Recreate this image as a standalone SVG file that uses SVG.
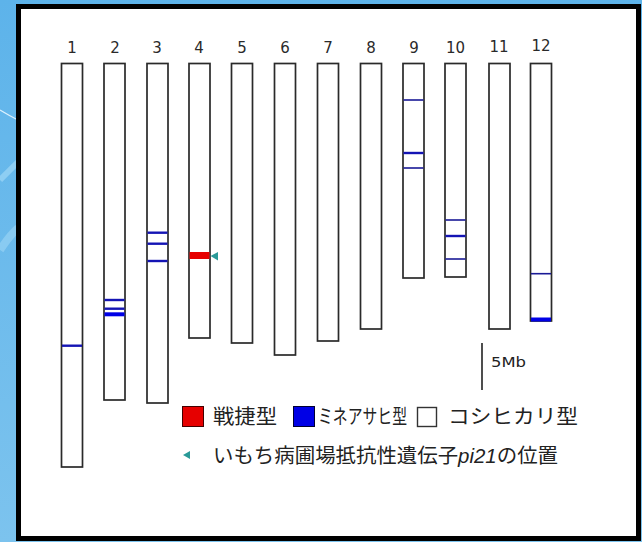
<svg xmlns="http://www.w3.org/2000/svg" width="642" height="542" viewBox="0 0 642 542">
<defs>
<linearGradient id="bg" x1="0" y1="0" x2="0" y2="1">
<stop offset="0" stop-color="#5db3ea"/>
<stop offset="1" stop-color="#7cc3ee"/>
</linearGradient>
</defs>
<style>
.chr{fill:#fff;stroke:#2a2a2a;stroke-width:1.7}
.lab{font-family:"DejaVu Sans","Liberation Sans",sans-serif;font-size:15px;fill:#2a2a2a;text-anchor:middle}
.thin{stroke:#1a1a96;stroke-width:1.6}
.mid{stroke:#1414b4;stroke-width:2.4}
.thick{stroke:#0000e6;stroke-width:4}
.leg{font-family:"Noto Sans CJK JP","Liberation Sans",sans-serif;font-size:20px;fill:#222}
.tri{fill:#2a9a98}
</style>
<rect x="0" y="0" width="642" height="542" fill="url(#bg)"/>
<path d="M0 110 Q10 116 18 120" fill="none" stroke="#e8f6ff" stroke-width="1.2" opacity="0.9"/>
<path d="M0 180 Q10 170 18 162" fill="none" stroke="#a8dcf8" stroke-width="6" opacity="0.6"/>
<path d="M0 250 Q10 235 18 228" fill="none" stroke="#a8dcf8" stroke-width="8" opacity="0.5"/>
<rect x="18.5" y="6.5" width="620" height="532" fill="#fff" stroke="#000" stroke-width="5"/>

<g id="chr1"><text class="lab" x="72" y="53">1</text><rect class="chr" x="61.5" y="63.5" width="21" height="403.5"/><line class="mid" x1="62" y1="345.7" x2="82" y2="345.7"/></g>
<g id="chr2"><text class="lab" x="115" y="53">2</text><rect class="chr" x="104" y="63.5" width="21" height="336.5"/><line class="mid" x1="104.5" y1="300" x2="124.5" y2="300"/><line class="mid" x1="104.5" y1="308.7" x2="124.5" y2="308.7"/><line class="thick" x1="104.5" y1="314.3" x2="124.5" y2="314.3"/></g>
<g id="chr3"><text class="lab" x="157" y="53">3</text><rect class="chr" x="147" y="63.5" width="21" height="339.5"/><line class="mid" x1="147.5" y1="232.7" x2="167.5" y2="232.7"/><line class="mid" x1="147.5" y1="243.7" x2="167.5" y2="243.7"/><line class="mid" x1="147.5" y1="261" x2="167.5" y2="261"/></g>
<g id="chr4"><text class="lab" x="199" y="53">4</text><rect class="chr" x="189" y="63.5" width="21" height="274.5"/><rect x="189.5" y="252" width="20" height="7" fill="#e60000"/><polygon class="tri" points="210.5,256 218,252 218,260.5"/></g>
<g id="chr5"><text class="lab" x="242" y="53">5</text><rect class="chr" x="231.5" y="63.5" width="21" height="279.5"/></g>
<g id="chr6"><text class="lab" x="285" y="53">6</text><rect class="chr" x="274.5" y="63.5" width="21" height="291.5"/></g>
<g id="chr7"><text class="lab" x="328" y="53">7</text><rect class="chr" x="317.5" y="63.5" width="21" height="277.5"/></g>
<g id="chr8"><text class="lab" x="371" y="53">8</text><rect class="chr" x="360.5" y="63.5" width="21" height="265.5"/></g>
<g id="chr9"><text class="lab" x="414" y="53">9</text><rect class="chr" x="403" y="63.5" width="21" height="214.5"/><line class="thin" x1="403.5" y1="100" x2="423.5" y2="100"/><line class="mid" x1="403.5" y1="153" x2="423.5" y2="153"/><line class="thin" x1="403.5" y1="168" x2="423.5" y2="168"/></g>
<g id="chr10"><text class="lab" x="455.5" y="53">10</text><rect class="chr" x="445" y="63.5" width="21" height="213.5"/><line class="thin" x1="445.5" y1="220" x2="465.5" y2="220"/><line class="mid" x1="445.5" y1="236" x2="465.5" y2="236"/><line class="thin" x1="445.5" y1="259" x2="465.5" y2="259"/></g>
<g id="chr11"><text class="lab" x="499" y="52">11</text><rect class="chr" x="489" y="63.5" width="21" height="265.5"/></g>
<g id="chr12"><text class="lab" x="541" y="51">12</text><rect class="chr" x="530.5" y="63.5" width="21" height="257.5"/><line class="thin" x1="531" y1="273.7" x2="551" y2="273.7"/><line class="thick" x1="531" y1="319.5" x2="551" y2="319.5"/></g>

<g id="connectors"></g>

<g id="scale"><line x1="482" y1="343" x2="482" y2="390" stroke="#222" stroke-width="1.6"/><text x="491" y="367" font-family="DejaVu Sans,Liberation Sans,sans-serif" font-size="14" fill="#222" textLength="35" lengthAdjust="spacingAndGlyphs">5Mb</text></g>

<g id="legend">
<rect x="182.5" y="406.5" width="21" height="20" fill="#e60000" stroke="#400" stroke-width="1"/>
<text class="leg" x="213" y="424" textLength="64" lengthAdjust="spacingAndGlyphs">戦捷型</text>
<rect x="293.5" y="406.5" width="21" height="20" fill="#0000e6" stroke="#003" stroke-width="1"/>
<text class="leg" x="318" y="424" textLength="89" lengthAdjust="spacingAndGlyphs">ミネアサヒ型</text>
<rect x="417.5" y="407.5" width="19" height="19" fill="#fff" stroke="#333" stroke-width="1.4"/>
<text class="leg" x="448" y="424" textLength="130" lengthAdjust="spacingAndGlyphs">コシヒカリ型</text>
<polygon class="tri" points="183,455 190,451 190,459"/>
<text class="leg" x="213" y="463" textLength="345" lengthAdjust="spacingAndGlyphs">いもち病圃場抵抗性遺伝子<tspan font-family="Liberation Sans,Arial,sans-serif" font-style="italic">pi21</tspan>の位置</text>
</g>
</svg>
